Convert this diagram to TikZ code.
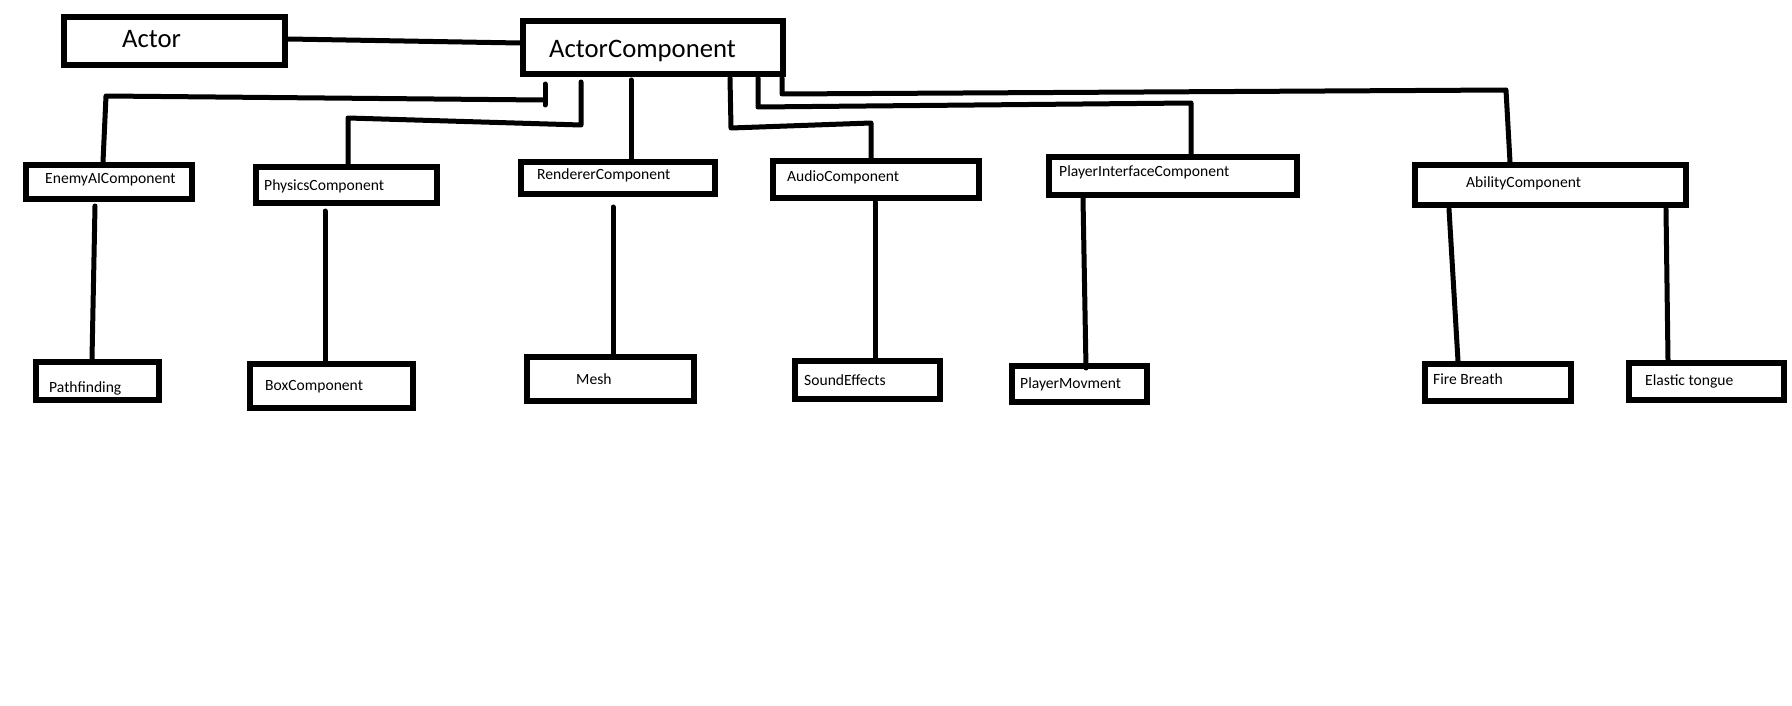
\documentclass[tikz,border=0pt]{standalone}
\usepackage{fontspec}
\setmainfont{Carlito}
\begin{document}
\begin{tikzpicture}[x=1pt,y=-1pt]
\tikzset{
  box/.style={draw=black, line width=6pt, inner sep=0pt},
  bigtxt/.style={font=\fontsize{26.7}{31}\selectfont, inner sep=0pt, anchor=base west},
  smalltxt/.style={font=\fontsize{15.6}{18}\selectfont, inner sep=0pt, anchor=base west},
  link/.style={draw=black, line width=5pt, line cap=round, line join=round},
}
\fill[white] (0,0) rectangle (1792,706);
\useasboundingbox (0,0) rectangle (1792,706);

% boxes
\node[box, minimum width=221pt, minimum height=48pt] (actor) at (174.5,41) {};
\node[box, minimum width=260pt, minimum height=53pt] (ac) at (653,47.5) {};
\node[box, minimum width=166pt, minimum height=34pt] (enemy) at (109,182) {};
\node[box, minimum width=181pt, minimum height=36pt] (phys) at (346.5,185) {};
\node[box, minimum width=194pt, minimum height=32pt] (rend) at (618,178) {};
\node[box, minimum width=206pt, minimum height=37pt] (audio) at (876,179.5) {};
\node[box, minimum width=248pt, minimum height=38pt] (pinter) at (1173,176) {};
\node[box, minimum width=271pt, minimum height=40pt] (abil) at (1550.5,185) {};
\node[box, minimum width=123pt, minimum height=38pt] (pathf) at (97.5,381) {};
\node[box, minimum width=163pt, minimum height=44pt] (boxc) at (331.5,386) {};
\node[box, minimum width=167pt, minimum height=44pt] (mesh) at (610.5,379) {};
\node[box, minimum width=145pt, minimum height=38pt] (sound) at (867.5,380) {};
\node[box, minimum width=135pt, minimum height=36pt] (pmov) at (1079.5,384) {};
\node[box, minimum width=146pt, minimum height=37pt] (fire) at (1498,382.5) {};
\node[box, minimum width=155pt, minimum height=37pt] (elastic) at (1706.5,381.5) {};

% texts
\node[bigtxt] (tactor) at (122,48) {Actor};
\node[bigtxt] (tac) at (549,57.7) {ActorComponent};
\node[smalltxt] (tenemy) at (45,184) {EnemyAIComponent};
\node[smalltxt] (tphys) at (264,190) {PhysicsComponent};
\node[smalltxt] (trend) at (537,180) {RendererComponent};
\node[smalltxt] (taudio) at (787,182) {AudioComponent};
\node[smalltxt] (tpinter) at (1059,177) {PlayerInterfaceComponent};
\node[smalltxt] (tabil) at (1466,187) {AbilityComponent};
\node[smalltxt] (tpathf) at (49,392) {Pathfinding};
\node[smalltxt] (tboxc) at (265,390) {BoxComponent};
\node[smalltxt] (tmesh) at (576,384) {Mesh};
\node[smalltxt] (tsound) at (804,385) {SoundEffects};
\node[smalltxt] (tpmov) at (1020,388) {PlayerMovment};
\node[smalltxt] (tfire) at (1433,384) {Fire Breath};
\node[smalltxt] (telastic) at (1645,385) {Elastic tongue};

% Actor -- ActorComponent
\draw[link] ([yshift=2pt]actor.east) -- ([yshift=4.5pt]ac.west);

% EnemyAI
\coordinate (e1a) at (545,84);
\coordinate (e1b) at (545,105);
\coordinate (e1c) at (543,100);
\coordinate (e1d) at (106,96);
\draw[link] (e1a) -- (e1b);
\draw[link] (e1c) -- (e1d) -- ([xshift=-6pt]enemy.north);

% Physics
\coordinate (p1a) at (581,82);
\coordinate (p1b) at (581,125);
\coordinate (p1c) at (348,118);
\draw[link] (p1a) -- (p1b) -- (p1c) -- (phys.north -| p1c);

% Renderer
\coordinate (r1a) at (631,80);
\draw[link] (r1a) -- (rend.north -| r1a);

% Audio
\coordinate (a1a) at (730,78);
\coordinate (a1b) at (731,128);
\coordinate (a1c) at (871,123);
\draw[link] (a1a) -- (a1b) -- (a1c) -- (audio.north -| a1c);

% PlayerInterface
\coordinate (i1a) at (758,78);
\coordinate (i1b) at (758,107);
\coordinate (i1c) at (1191,103);
\draw[link] (i1a) -- (i1b) -- (i1c) -- (pinter.north -| i1c);

% Ability
\coordinate (b1a) at (782,78);
\coordinate (b1b) at (782,94);
\coordinate (b1c) at (1506,90);
\draw[link] (b1a) -- (b1b) -- (b1c) -- ([xshift=-40.5pt]abil.north);

% second level
\coordinate (q1) at (95,206);
\draw[link] (q1) -- ([xshift=-5.5pt]pathf.north);
\coordinate (q2) at (325,211);
\draw[link] (q2) -- (boxc.north -| q2);
\coordinate (q3) at (613,207);
\draw[link] (q3) -- (mesh.north -| q3);
\coordinate (q4) at (875,202);
\draw[link] (q4) -- (sound.north -| q4);
\coordinate (q5) at (1083,198);
\draw[link] (q5) -- ([xshift=6.5pt,yshift=-5pt]pmov.north);
\coordinate (q6) at (1449,209);
\draw[link] (q6) -- ([xshift=-40pt]fire.north);
\coordinate (q7) at (1666,209);
\draw[link] (q7) -- ([xshift=-38.5pt]elastic.north);
\end{tikzpicture}
\end{document}
